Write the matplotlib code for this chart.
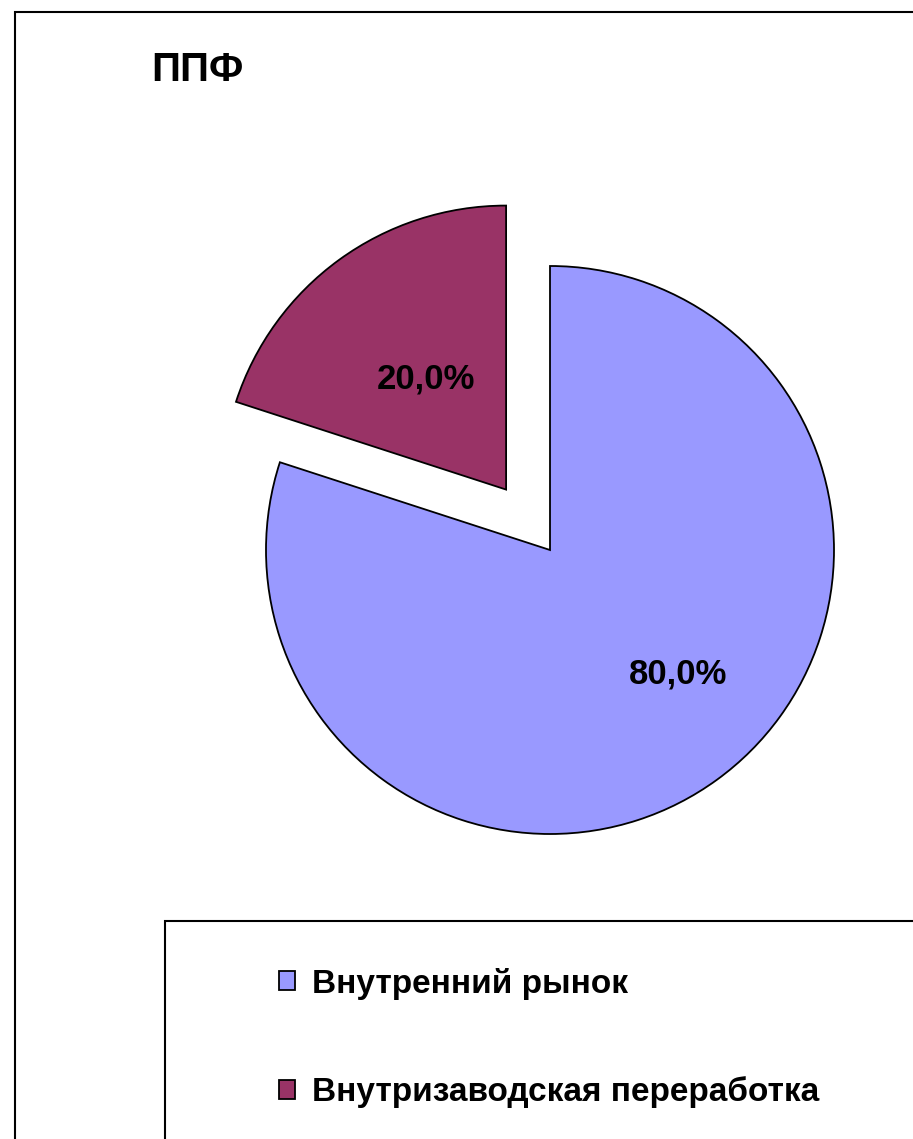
import matplotlib.pyplot as plt
from matplotlib.patches import Rectangle

plt.rcParams['font.family'] = ['Liberation Sans', 'DejaVu Sans']

title = 'ППФ'
labels = ['Внутренний рынок', 'Внутризаводская переработка']
shares = [80.0, 20.0]
colors = ['#9999FF', '#993366']
explode = [0, 0.263]

W, H = 913, 1139
R = 284.0  # pie radius in px
cx, cy = 550, 550  # pie centre in px (from top)

fig = plt.figure(figsize=(W / 100, H / 100), dpi=100)
ax = fig.add_axes([0, 0, 1, 1])

wedges, texts, autotexts = ax.pie(
    shares, colors=colors, explode=explode, startangle=90, counterclock=False,
    radius=1, autopct=lambda p: ('%.1f%%' % p).replace('.', ','),
    pctdistance=0.48, wedgeprops=dict(edgecolor='black', linewidth=1.3),
    textprops=dict(fontsize=25, fontweight='bold', color='black'))
ax.set_aspect('auto')
ax.set_xlim(-cx / R, (W - cx) / R)
ax.set_ylim(-(H - cy) / R, cy / R)
ax.axis('off')
# 80% label sits off the wedge bisector in the original
autotexts[0].set_position((0.45, -0.435))

# outer chart frame (runs off the right and bottom edges)
fig.add_artist(Rectangle((15 / W, -0.1), 1.2, 1 - 12 / H + 0.1, transform=fig.transFigure,
                         fill=False, edgecolor='black', linewidth=1.5))
# legend frame
fig.add_artist(Rectangle((165 / W, -0.1), 1.2, 1 - 921 / H + 0.1, transform=fig.transFigure,
                         fill=False, edgecolor='black', linewidth=1.5))

fig.text(197 / W, 1 - 70 / H, title, fontsize=29, fontweight='bold', ha='center', va='center')

leg = fig.legend(wedges, labels, loc='upper left', bbox_to_anchor=(262 / W, 1 - 951 / H),
                 frameon=False, prop=dict(size=24, weight='bold'),
                 handlelength=0.5, handleheight=0.5, handletextpad=0.5,
                 labelspacing=2.3, borderpad=0)
for h in leg.legend_handles:
    h.set_linewidth(1.3)

fig.savefig('out.png', dpi=100)
